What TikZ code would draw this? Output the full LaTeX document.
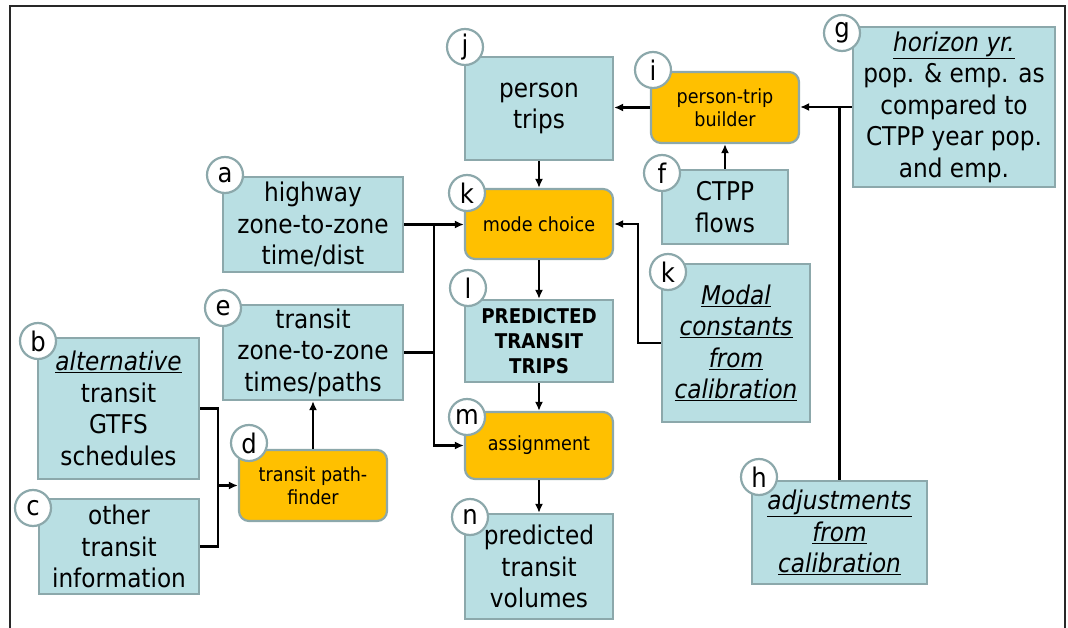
\documentclass[tikz,border=0pt]{standalone}
\usepackage{fontspec}
\setmainfont{DejaVu Sans Condensed}[BoldFont={DejaVu Sans Condensed Bold},ItalicFont={DejaVu Sans Condensed Oblique}]
\usetikzlibrary{arrows.meta}

\definecolor{boxc}{RGB}{185,223,227}
\definecolor{procc}{RGB}{255,192,0}
\definecolor{bordc}{RGB}{140,168,171}
\definecolor{framec}{RGB}{40,40,40}

\newcommand\fbig{\fontsize{25.8}{31.5}\selectfont}
\newcommand\fsmall{\fontsize{19.5}{23}\selectfont}
\newcommand\fbold{\fontsize{20.3}{25}\selectfont\bfseries}
\newcommand\ftag{\fontsize{27}{30}\selectfont}
\newcommand\ul[1]{\underline{\textit{#1}}}

\tikzset{
  box/.style={draw=bordc, fill=boxc, line width=2.2pt, inner sep=0pt, align=center, font=\fbig},
  proc/.style={box, fill=procc, rounded corners=10pt, font=\fsmall},
  tag/.style={circle, draw=bordc, fill=white, line width=2.2pt, minimum size=36pt, inner sep=0pt, font=\ftag},
  flow/.style={line width=2.2pt, -{Latex[length=9pt,width=8pt]}},
  link/.style={line width=2.2pt},
}

\begin{document}
\begin{tikzpicture}[x=1pt,y=-1pt]
\useasboundingbox (0,0) rectangle (1068,628);

% open frame
\draw[line width=1.6pt, framec] (10,628) -- (10,6) -- (1065,6) -- (1065,628);

% boxes
\node[box, minimum width=148pt, minimum height=103pt] (j) at (539,108.5) {person\\trips};
\node[proc, minimum width=148pt, minimum height=71pt] (i) at (725,107.5) {person-trip\\builder};
\node[box, minimum width=202pt, minimum height=160pt] (g) at (954,107) {\ul{horizon yr.}\\pop. \& emp. as\\compared to\\CTPP year pop.\\and emp.};
\node[box, minimum width=126pt, minimum height=74pt] (f) at (725,207) {CTPP\\flows};
\node[proc, minimum width=148pt, minimum height=70pt] (k) at (539,224) {mode choice};
\node[box, minimum width=180pt, minimum height=95pt] (a) at (313,224.5) {highway\\zone-to-zone\\time/dist};
\node[box, minimum width=180pt, minimum height=95pt] (e) at (313,352.5) {transit\\zone-to-zone\\times/paths};
\node[box, font=\fbold, minimum width=148pt, minimum height=82pt] (l) at (539,341) {PREDICTED\\TRANSIT\\TRIPS};
\node[proc, minimum width=148pt, minimum height=67pt] (m) at (539,445.5) {assignment};
\node[box, minimum width=148pt, minimum height=105pt] (n) at (539,566.5) {predicted\\transit\\volumes};
\node[box, minimum width=161pt, minimum height=141pt] (b) at (118.5,408.5) {\ul{alternative}\\transit\\GTFS\\schedules};
\node[box, minimum width=160pt, minimum height=95pt] (c) at (119,546.5) {other\\transit\\information};
\node[proc, minimum width=148pt, minimum height=71pt] (d) at (313,485.5) {transit path-\\finder};
\node[box, minimum width=148pt, minimum height=158pt] (k2) at (736,343) {\ul{Modal}\\\ul{constants}\\\ul{from}\\\ul{calibration}};
\node[box, minimum width=175pt, minimum height=103pt] (h) at (839.5,532.5) {\ul{adjustments}\\\ul{from}\\\ul{calibration}};

% junction points of the connectors
\coordinate (bus) at (434,224.5);
\coordinate (mc) at (638,343);
\coordinate (jn) at (218,408.5);

% main chain
\draw[flow] (j) -- (k);
\draw[flow] (k) -- (l);
\draw[flow] (l) -- (m);
\draw[flow] (m) -- (n);

% person-trip builder inputs and output
\draw[flow] (i.west) -- (i.west -| j.east);
\draw[flow] (f.north) -- (i.south);
\draw[flow] (g.west) -- (g.west -| i.east);
\draw[link] (h.north) -- (h.north |- g.west);

% skims to mode choice and assignment
\draw[flow] (a.east) -- (a.east -| k.west);
\draw[flow] (bus) |- (m.west);
\draw[link] (e.east) -- (e.east -| bus);

% modal constants to mode choice
\draw[flow] (k2.west) -- (mc) |- (k.east);

% transit inputs to the path-finder
\draw[link] (b.east) -- (b.east -| jn) -- (c.east -| jn) -- (c.east);
\draw[flow] (d.west -| jn) -- (d.west);
\draw[flow] (d.north) -- (e.south);

% letter tags
\node[tag] at (465,47) {j};
\node[tag] at (653,70) {i};
\node[tag] at (842,33) {g};
\node[tag] at (662,173) {f};
\node[tag] at (467,193) {k};
\node[tag] at (225,175) {a};
\node[tag] at (223,308) {e};
\node[tag] at (468,288) {l};
\node[tag] at (467,417) {m};
\node[tag] at (470,517) {n};
\node[tag] at (38,341) {b};
\node[tag] at (33,508) {c};
\node[tag] at (249,443) {d};
\node[tag] at (668,272) {k};
\node[tag] at (759,477) {h};
\end{tikzpicture}
\end{document}
